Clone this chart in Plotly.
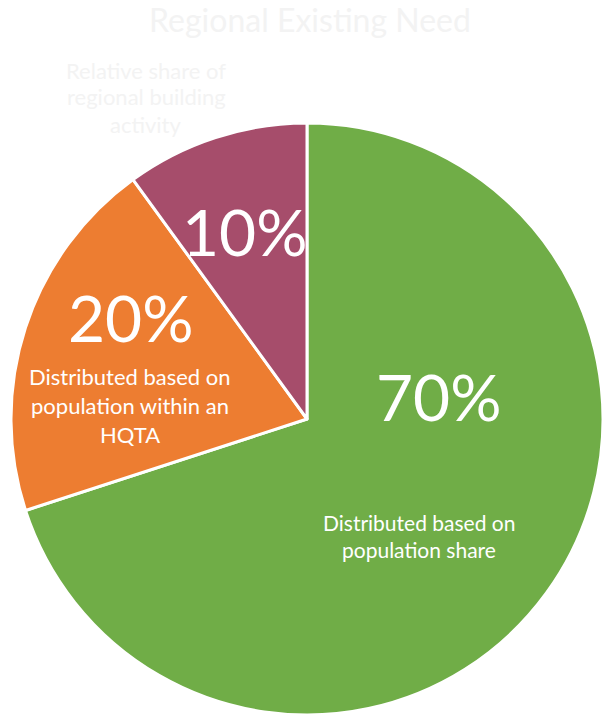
import plotly.graph_objects as go

labels = ["Distributed based on<br>population share",
          "Distributed based on<br>population within an<br>HQTA",
          "Relative share of<br>regional building<br>activity"]
shares = [70, 20, 10]
colors = ["#70AD47", "#ED7D31", "#A64D6B"]
title_text = "Regional Existing Need"

W, H = 605, 717
FONT = "Lato"

fig = go.Figure(go.Pie(
    values=shares,
    labels=labels,
    sort=False,
    direction="clockwise",
    rotation=0,
    textinfo="none",
    hoverinfo="label+percent",
    marker=dict(colors=colors, line=dict(color="white", width=3)),
    domain=dict(x=[11 / W, 603 / W], y=[2 / H, 594 / H]),
    showlegend=False,
))


def px(x, y):
    return x / W, 1 - y / H


annos = []
# big percentages
for (x, y), v in zip([(439, 397), (131, 318), (245, 232)], shares):
    ax, ay = px(x, y)
    annos.append(dict(x=ax, y=ay, text=f"{v}%", showarrow=False,
                      font=dict(family=FONT, size=64, color="white"),
                      xanchor="center", yanchor="middle"))


def add_lines(text, cx, y0, step, size, color):
    # one annotation per line so the line spacing can follow the reference
    for i, line in enumerate(text.split("<br>")):
        ax, ay = px(cx, y0 + i * step)
        annos.append(dict(x=ax, y=ay, text=line, showarrow=False,
                          font=dict(family=FONT, size=size, color=color),
                          xanchor="center", yanchor="middle"))


add_lines(labels[0], 419, 522, 27, 21, "white")
add_lines(labels[1], 130, 376, 29, 22, "white")
add_lines(labels[2], 146, 70, 27, 22, "#f3f3f3")

fig.update_layout(
    width=W, height=H,
    margin=dict(l=0, r=0, t=0, b=0),
    paper_bgcolor="white",
    plot_bgcolor="white",
    title=dict(text=title_text, x=310 / W, y=1 - 21 / H, xanchor="center", yanchor="middle",
               font=dict(family=FONT, size=32, color="#f3f3f3")),
    annotations=annos,
)

fig.write_html("out.html", config={"displayModeBar": False},
               post_script="document.body.style.margin='0';")
